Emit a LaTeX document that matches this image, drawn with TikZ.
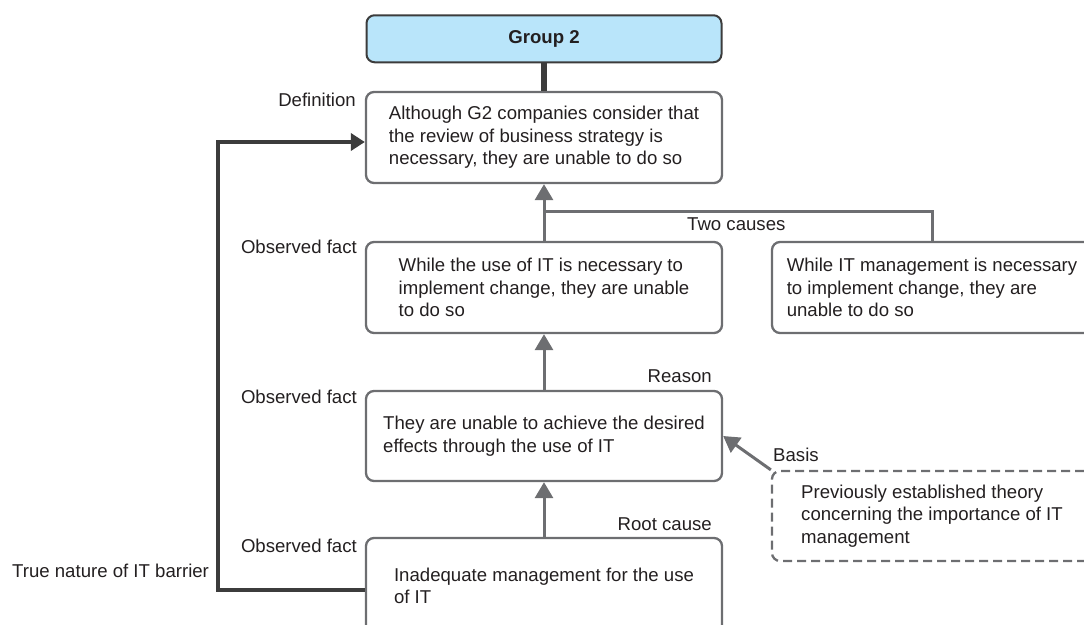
\documentclass[tikz,border=0pt]{standalone}
\usepackage{fontspec}
\setmainfont{Liberation Sans}
\usetikzlibrary{arrows.meta}
\definecolor{boxgray}{HTML}{6D6E71}
\definecolor{loopgray}{HTML}{3C3C3C}
\definecolor{txt}{HTML}{231F20}
\definecolor{grpblue}{HTML}{B9E5FA}
\begin{document}
\begin{tikzpicture}[x=1pt,y=-1pt,
  every node/.style={font=\fontsize{18.6}{22.5}\selectfont, text=txt},
  box/.style={draw=boxgray, line width=2.3pt, rounded corners=8pt, align=left,
    minimum width=356pt, minimum height=91pt, inner sep=0pt},
  sidebox/.style={box, minimum width=320pt},
  lbl/.style={inner sep=0pt},
  conn/.style={draw=boxgray, line width=3pt},
  arr/.style={conn, -{Triangle[width=18pt,length=16pt]}},
]
\useasboundingbox (0,0) rectangle (1084,624);
\clip (0,0) rectangle (1084,624);

% nodes
\node[draw=loopgray, line width=2pt, fill=grpblue, rounded corners=8pt,
  minimum width=355pt, minimum height=47pt, inner sep=0pt,
  font=\fontsize{18.6}{22.5}\selectfont\bfseries] (g2) at (544,38.75) {Group 2};
\node[box] (def) at (544,137.5) {Although G2 companies consider that\\the review of business strategy is\\necessary, they are unable to do so};
\node[box] (use) at (544,287.5) {While the use of IT is necessary to\\implement change, they are unable\\to do so};
\node[sidebox] (mgmt) at (932,287.5) {While IT management is necessary\\to implement change, they are\\unable to do so};
\node[box, minimum height=90pt] (reason) at (544,436) {They are unable to achieve the desired\\effects through the use of IT};
\node[box, minimum height=96pt] (root) at (544,586) {Inadequate management for the use\\of IT};
\node[sidebox, minimum height=90pt, dash pattern=on 9pt off 5pt] (basis) at (932,516) {Previously established theory\\concerning the importance of IT\\management};

% labels
\node[lbl, anchor=base east] (ldef) at (356,106) {Definition};
\node[lbl, anchor=base east] (lobs1) at (357,253) {Observed fact};
\node[lbl, anchor=base east] (lobs2) at (357,403) {Observed fact};
\node[lbl, anchor=base east] (lobs3) at (357,552) {Observed fact};
\node[lbl, anchor=base west] (ltwo) at (687,230) {Two causes};
\node[lbl, anchor=base east] (lreason) at (712,382) {Reason};
\node[lbl, anchor=base east] (lroot) at (712,530) {Root cause};
\node[lbl, anchor=base west] (lbasis) at (773,461) {Basis};
\node[lbl, anchor=base west] (ltrue) at (12,577) {True nature of IT barrier};

% connectors
\draw[draw=loopgray, line width=6pt] (g2.south) -- (def.north);
\coordinate (br) at (544,211);
\draw[arr] (use.north) -- (def.south);
\draw[conn] (br) -| (mgmt.north);
\draw[arr] (reason.north) -- (use.south);
\draw[arr] (root.north) -- (reason.south);
\draw[arr] (basis.north west) -- (reason.east);
\coordinate (lpA) at (218,590);
\coordinate (lpB) at (218,142);
\draw[draw=loopgray, line width=4.5pt, line join=miter, -{Triangle[width=17pt,length=14pt]}]
  (root.west |- lpA) -- (lpA) -- (lpB) -- (def.west |- lpB);
\end{tikzpicture}
\end{document}
